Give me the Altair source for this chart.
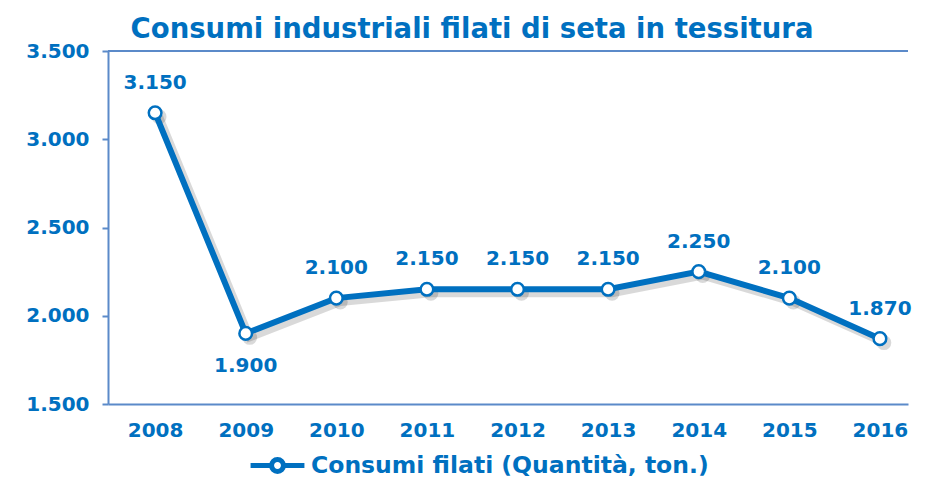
import altair as alt
import pandas as pd

years = [2008, 2009, 2010, 2011, 2012, 2013, 2014, 2015, 2016]
values = [3150, 1900, 2100, 2150, 2150, 2150, 2250, 2100, 1870]
label_pos = ["above", "below", "above", "above", "above", "above", "above", "above", "above"]
series_name = "Consumi filati (Quantità, ton.)"
y_ticks = [1500, 2000, 2500, 3000, 3500]

BLUE = "#0070C0"
AXIS = "#5B8AC9"
FONT = "DejaVu Sans"

df = pd.DataFrame({"anno": years, "valore": values, "pos": label_pos, "serie": series_name})

x = alt.X("anno:Q", scale=alt.Scale(domain=[2007.48, 2016.31], nice=False, zero=False),
          axis=alt.Axis(values=years, format="d", title=None, grid=False, ticks=False,
                        domainColor=AXIS, domainWidth=2, labelFont=FONT, labelFontSize=20,
                        labelFontWeight="bold", labelColor=BLUE, labelPadding=16))
y = alt.Y("valore:Q", scale=alt.Scale(domain=[1500, 3500], nice=False, zero=False),
          axis=alt.Axis(values=y_ticks, title=None, grid=False, tickSize=6, tickColor=AXIS,
                        tickWidth=2, domainColor=AXIS, domainWidth=2, labelFont=FONT,
                        labelFontSize=20, labelFontWeight="bold", labelColor=BLUE,
                        labelPadding=13,
                        labelExpr="replace(format(datum.value, ','), ',', '.')"))

base = alt.Chart(df)

legend_path = ("M-1,0 L-0.22,0 M0.22,0 L1,0 "
               "M-0.22,0 A0.22,0.22 0 1,0 0.22,0 A0.22,0.22 0 1,0 -0.22,0 Z")

shadow = base.mark_line(color="#000000", opacity=0.15, strokeWidth=8,
                        xOffset=4, yOffset=4).encode(x=x, y=y)
shadow_pts = base.mark_circle(color="#000000", opacity=0.15, size=220,
                              xOffset=4, yOffset=4).encode(x=x, y=y)

line = base.mark_line(strokeWidth=6).encode(
    x=x, y=y,
    color=alt.Color("serie:N", scale=alt.Scale(range=[BLUE]),
                    legend=alt.Legend(title=None, orient="none", legendX=140, legendY=385,
                                      symbolType=legend_path, symbolSize=2900,
                                      symbolStrokeWidth=5, symbolFillColor="white",
                                      symbolStrokeColor=BLUE, labelFont=FONT,
                                      labelFontSize=23.5, labelFontWeight="bold",
                                      labelColor=BLUE, labelLimit=600, labelOffset=4)))
pts = base.mark_point(filled=True, fill="white", stroke=BLUE, strokeWidth=2.5,
                      size=160, opacity=1, shape="circle").encode(x=x, y=y)

labels = base.transform_calculate(
    lab="replace(format(datum.valore, ','), ',', '.')")
lab_above = labels.transform_filter("datum.pos == 'above'").mark_text(
    font=FONT, fontSize=20, fontWeight="bold", color=BLUE, dy=-30).encode(
    x=x, y=y, text="lab:N")
lab_below = labels.transform_filter("datum.pos == 'below'").mark_text(
    font=FONT, fontSize=20, fontWeight="bold", color=BLUE, dy=33).encode(
    x=x, y=y, text="lab:N")

top_rule = alt.Chart(pd.DataFrame({"v": [3500]})).mark_rule(
    color=AXIS, strokeWidth=2).encode(y=alt.Y("v:Q", scale=alt.Scale(domain=[1500, 3500])))

chart = alt.layer(top_rule, shadow, shadow_pts, line, pts, lab_above, lab_below).properties(
    width=800, height=353,
    title=alt.TitleParams("Consumi industriali filati di seta in tessitura", font=FONT,
                          fontSize=27.5, fontWeight="bold", color=BLUE, anchor="middle",
                          dx=-36, dy=10, offset=8),
    autosize=alt.AutoSizeParams(type="none"),
    padding={"left": 100, "top": 43, "right": 9, "bottom": 75},
).configure_view(stroke=None)

chart.save("out.html", embed_options={"renderer": "svg", "actions": False})
